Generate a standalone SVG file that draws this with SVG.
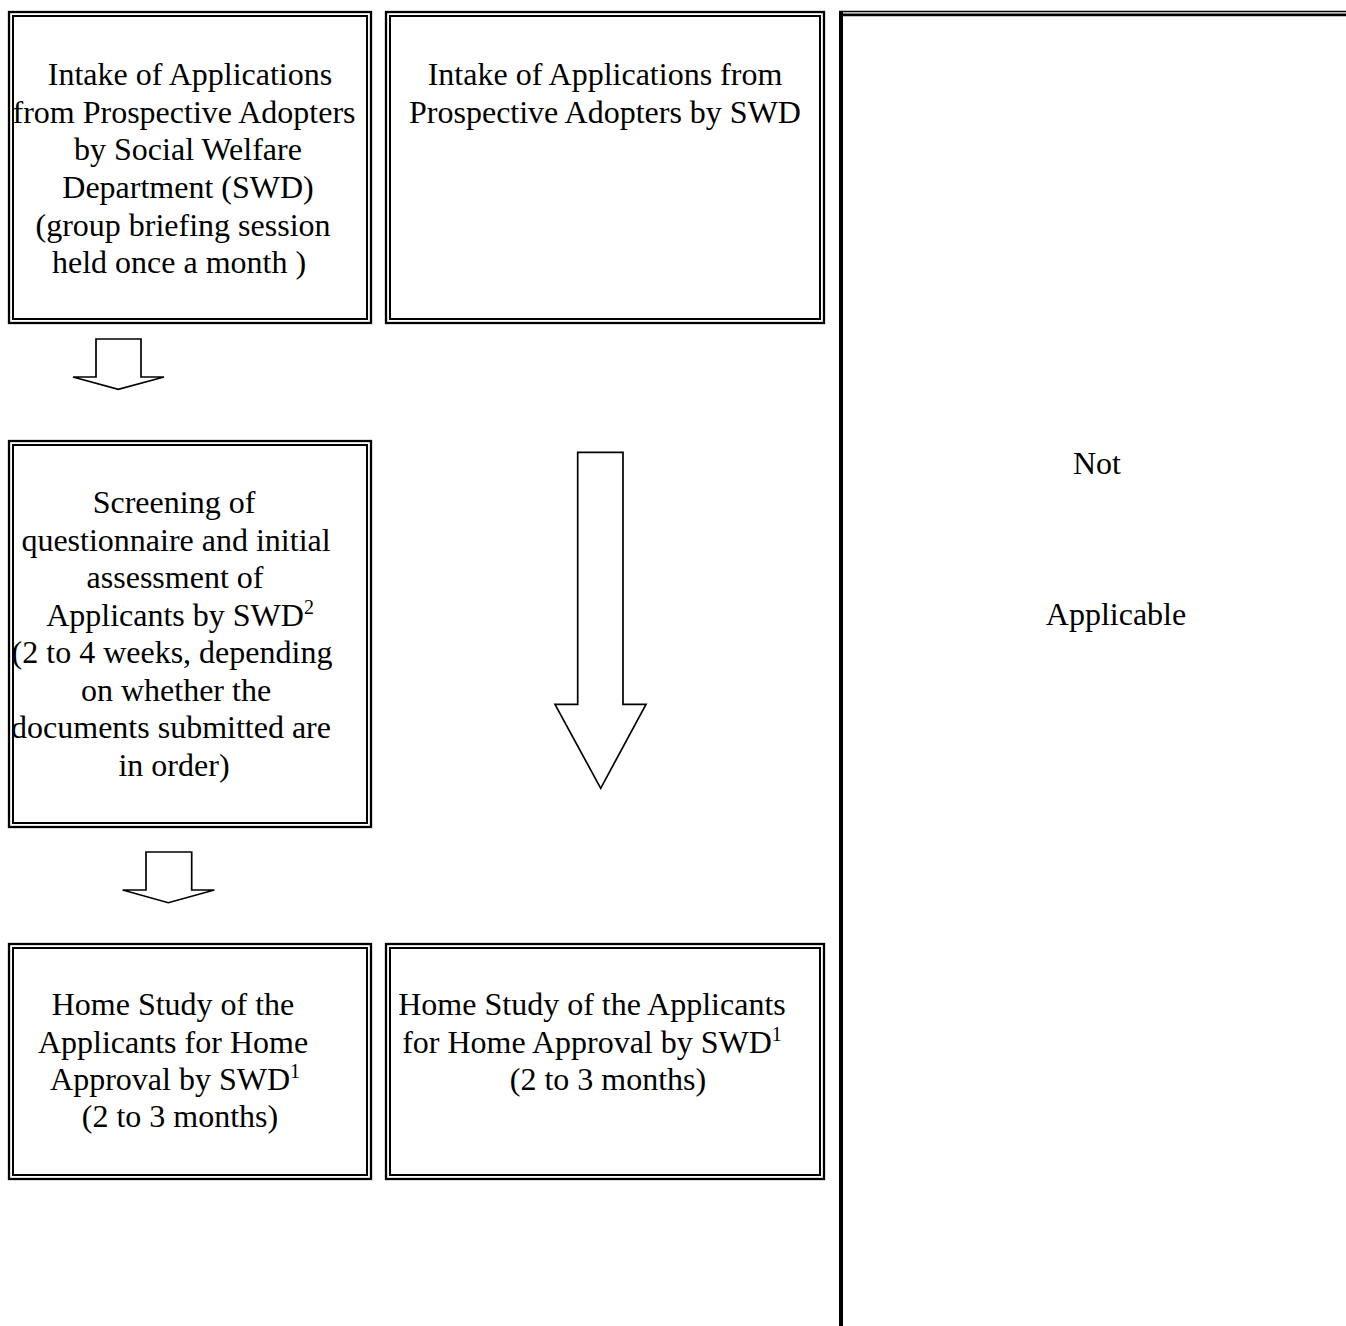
<svg xmlns="http://www.w3.org/2000/svg" width="1346" height="1326" viewBox="0 0 1346 1326">
<style>
.o{fill:none;stroke:#000;stroke-width:2.3}
.i{fill:none;stroke:#000;stroke-width:2}
.t{font-family:"Liberation Serif","Times New Roman",serif;font-size:32px;fill:#000;text-anchor:middle}
.s{font-size:20px}
.arr{fill:#fff;stroke:#000;stroke-width:1.7;stroke-linejoin:miter}
</style>
<rect width="1346" height="1326" fill="#fff"/>
<g id="box-intake-left">
<rect class="o" x="9" y="12" width="362" height="311"/>
<rect class="i" x="13" y="16" width="354" height="303"/>
<text class="t" x="190" y="85">Intake of Applications</text>
<text class="t" x="184" y="123">from Prospective Adopters</text>
<text class="t" x="188" y="160">by Social Welfare</text>
<text class="t" x="188" y="198">Department (SWD)</text>
<text class="t" x="183" y="236">(group briefing session</text>
<text class="t" x="179" y="273">held once a month )</text>
</g>
<g id="box-intake-right">
<rect class="o" x="386" y="12" width="438" height="311"/>
<rect class="i" x="390" y="16" width="430" height="303"/>
<text class="t" x="605" y="85">Intake of Applications from</text>
<text class="t" x="605" y="123">Prospective Adopters by SWD</text>
</g>
<g id="box-screening">
<rect class="o" x="9" y="441" width="362" height="386"/>
<rect class="i" x="13" y="445" width="354" height="378"/>
<text class="t" x="174" y="513">Screening of</text>
<text class="t" x="176" y="550.5">questionnaire and initial</text>
<text class="t" x="175" y="588">assessment of</text>
<text class="t" x="180" y="625.5">Applicants by SWD<tspan class="s" dy="-12">2</tspan></text>
<text class="t" x="172" y="663">(2 to 4 weeks, depending</text>
<text class="t" x="176" y="700.5">on whether the</text>
<text class="t" x="171" y="738">documents submitted are</text>
<text class="t" x="174" y="775.5">in order)</text>
</g>
<g id="box-homestudy-left">
<rect class="o" x="9" y="944" width="362" height="235"/>
<rect class="i" x="13" y="948" width="354" height="227"/>
<text class="t" x="173" y="1015">Home Study of the</text>
<text class="t" x="173" y="1052.5">Applicants for Home</text>
<text class="t" x="175" y="1090">Approval by SWD<tspan class="s" dy="-12">1</tspan></text>
<text class="t" x="180" y="1127">(2 to 3 months)</text>
</g>
<g id="box-homestudy-right">
<rect class="o" x="386" y="944" width="438" height="235"/>
<rect class="i" x="390" y="948" width="430" height="227"/>
<text class="t" x="592" y="1015">Home Study of the Applicants</text>
<text class="t" x="592" y="1052.5">for Home Approval by SWD<tspan class="s" dy="-12">1</tspan></text>
<text class="t" x="608" y="1090">(2 to 3 months)</text>
</g>
<g id="panel-not-applicable">
<line x1="839" y1="11.6" x2="1346" y2="11.6" stroke="#000" stroke-width="1.5"/>
<line x1="839" y1="14.8" x2="1346" y2="14.8" stroke="#000" stroke-width="2.8"/>
<line x1="841" y1="11" x2="841" y2="1326" stroke="#000" stroke-width="4"/>
<text class="t" x="1097" y="474">Not</text>
<text class="t" x="1116" y="625">Applicable</text>
</g>
<g id="connectors">
<polygon class="arr" points="96,339 141,339 141,377 164,377 118.3,389.3 73,377 96,377"/>
<polygon class="arr" points="146,852 191.7,852 191.7,890 214.3,890 168.3,902.7 122.7,890 146,890"/>
<polygon class="arr" points="577.7,452.3 623,452.3 623,704.3 646,704.3 600.7,788.3 555,704.3 577.7,704.3"/>
</g>
</svg>
